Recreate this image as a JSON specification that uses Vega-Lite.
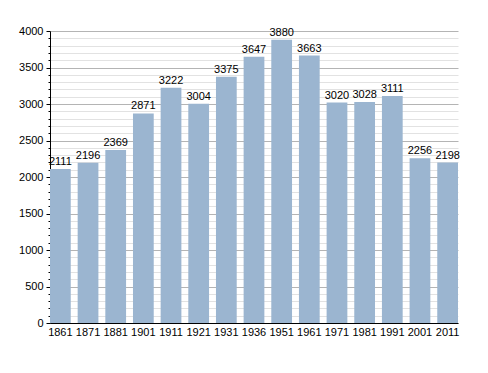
{
  "$schema": "https://vega.github.io/schema/vega-lite/v6.json",
  "autosize": {"type": "none"},
  "padding": {"left": 50, "top": 31, "right": 30, "bottom": 51},
  "width": 408,
  "height": 292,
  "background": "white",
  "config": {
    "view": {"stroke": null},
    "font": "Liberation Sans",
    "axis": {"labelFont": "Liberation Sans", "labelFontSize": 11, "labelColor": "#000"}
  },
  "data": {
    "values": [
      {"year": "1861", "pop": 2111},
      {"year": "1871", "pop": 2196},
      {"year": "1881", "pop": 2369},
      {"year": "1901", "pop": 2871},
      {"year": "1911", "pop": 3222},
      {"year": "1921", "pop": 3004},
      {"year": "1931", "pop": 3375},
      {"year": "1936", "pop": 3647},
      {"year": "1951", "pop": 3880},
      {"year": "1961", "pop": 3663},
      {"year": "1971", "pop": 3020},
      {"year": "1981", "pop": 3028},
      {"year": "1991", "pop": 3111},
      {"year": "2001", "pop": 2256},
      {"year": "2011", "pop": 2198}
    ]
  },
  "encoding": {
    "x": {
      "field": "year", "type": "ordinal", "sort": null,
      "scale": {"paddingInner": 0.25, "paddingOuter": 0},
      "axis": {"title": null, "labelAngle": 0, "ticks": false, "labelPadding": 3, "domainColor": "#000", "domainWidth": 1, "grid": false}
    },
    "y": {
      "field": "pop", "type": "quantitative",
      "scale": {"domain": [0, 4000], "nice": false},
      "axis": {
        "title": null,
        "values": [0,100,200,300,400,500,600,700,800,900,1000,1100,1200,1300,1400,1500,1600,1700,1800,1900,2000,2100,2200,2300,2400,2500,2600,2700,2800,2900,3000,3100,3200,3300,3400,3500,3600,3700,3800,3900,4000],
        "labelExpr": "datum.value % 500 === 0 ? datum.value : ''",
        "grid": true,
        "gridColor": {"condition": {"test": "datum.value % 500 === 0", "value": "#b4b4b4"}, "value": "#e2e2e2"},
        "gridWidth": 1,
        "tickColor": "#000",
        "tickSize": {"condition": {"test": "datum.value % 500 === 0", "value": 4}, "value": 2},
        "domainColor": "#000",
        "labelPadding": 3
      }
    }
  },
  "layer": [
    {"mark": {"type": "bar", "color": "#9bb5d0"}},
    {
      "mark": {"type": "text", "baseline": "alphabetic", "dy": -4, "fontSize": 11, "color": "#000", "font": "Liberation Sans"},
      "encoding": {"text": {"field": "pop", "type": "quantitative"}}
    }
  ]
}
